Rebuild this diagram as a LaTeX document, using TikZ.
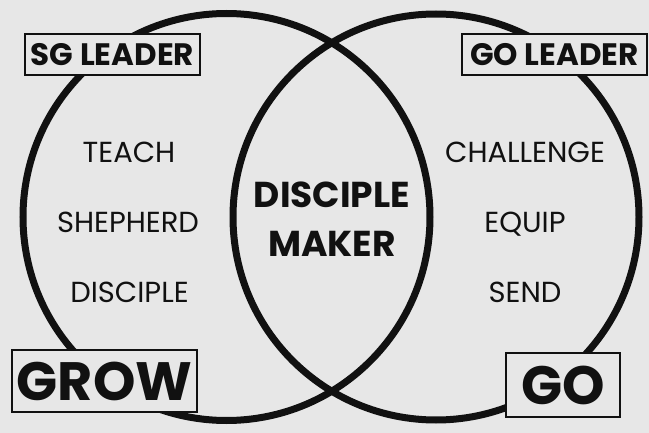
\documentclass[tikz,border=0pt]{standalone}
\usepackage{fontspec}
\setmainfont{Poppins}
\definecolor{bg}{HTML}{E7E7E7}
\definecolor{ink}{HTML}{111111}
\begin{document}
\begin{tikzpicture}[x=1pt,y=-1pt,
  ring/.style={draw=ink,line width=7pt},
  lbox/.style={draw=ink,fill=bg,line width=2.5pt,inner sep=0pt,font=\bfseries\fontsize{31}{31}\selectfont,text=ink},
  bigbox/.style={lbox,font=\bfseries\fontsize{54}{54}\selectfont},
  word/.style={anchor=base,inner sep=0pt,text=ink,font=\fontsize{29}{29}\selectfont},
  core/.style={anchor=base,inner sep=0pt,text=ink,font=\bfseries\fontsize{36}{36}\selectfont}]
\fill[bg] (0,0) rectangle (649,433);
\useasboundingbox (0,0) rectangle (649,433);
\node[ring,circle,minimum size=407pt,inner sep=0pt] (lc) at (226.5,217) {};
\node[ring,circle,minimum size=406pt,inner sep=0pt] (rc) at (436,217) {};
\node[lbox,minimum width=175pt,minimum height=41pt] (sg) at (112.5,54.5) {SG LEADER};
\node[lbox,minimum width=185pt,minimum height=41pt] (gol) at (554.5,54.5) {GO LEADER};
\node[bigbox,minimum width=185pt,minimum height=62pt] (grow) at (104.5,381) {GROW};
\node[bigbox,minimum width=114pt,minimum height=64pt] (go) at (563,385) {GO};
\node[word] (teach) at (129,163) {TEACH};
\node[word] (shep) at (128,233) {SHEPHERD};
\node[word] (disc) at (129.5,303) {DISCIPLE};
\node[word] (chal) at (525,163) {CHALLENGE};
\node[word] (equip) at (525,233) {EQUIP};
\node[word] (send) at (525,303) {SEND};
\node[core] (dm1) at (332,208) {DISCIPLE};
\node[core] (dm2) at (332,257) {MAKER};
\end{tikzpicture}
\end{document}
